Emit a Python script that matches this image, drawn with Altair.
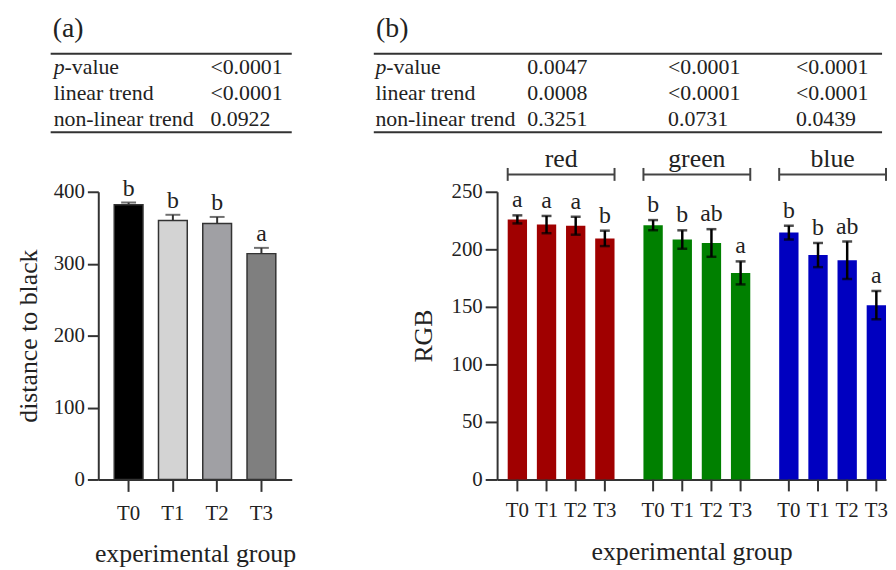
import altair as alt
import pandas as pd

FONT = "Liberation Serif"

# ---------------- data ----------------
groups = ["T0", "T1", "T2", "T3"]

# panel (a): distance to black
dist_mean = [382, 360, 356, 314]
dist_err = [3, 8, 9, 8]
dist_letters = ["b", "b", "b", "a"]
dist_colors = ["#000000", "#d3d3d3", "#a0a0a4", "#7f7f7f"]

# tables
table_rows = ["p-value", "linear trend", "non-linear trend"]
table_a = ["<0.0001", "<0.0001", "0.0922"]
table_b_red = ["0.0047", "0.0008", "0.3251"]
table_b_green = ["<0.0001", "<0.0001", "0.0731"]
table_b_blue = ["<0.0001", "<0.0001", "0.0439"]

# panel (b): RGB
channels = ["red", "green", "blue"]
channel_colors = ["#a00000", "#008000", "#0000c0"]
rgb_red = [226, 221.5, 220.5, 209.5]
rgb_red_err = [3.5, 7.5, 7.8, 6.7]
rgb_green = [221, 208.5, 205.5, 179.5]
rgb_green_err = [4.4, 8, 12, 10]
rgb_blue = [214.5, 195, 190.5, 151.5]
rgb_blue_err = [6, 10.5, 16.3, 12.3]
rgb_letters_red = ["a", "a", "a", "b"]
rgb_letters_green = ["b", "b", "ab", "a"]
rgb_letters_blue = ["b", "b", "ab", "a"]

# ---------------- frames ----------------
df_a = pd.DataFrame({"group": groups, "mean": dist_mean, "err": dist_err, "letter": dist_letters})
df_a["hi"] = df_a["mean"] + df_a["err"]

rows = []
for ch, means, errs, lets in [
    ("red", rgb_red, rgb_red_err, rgb_letters_red),
    ("green", rgb_green, rgb_green_err, rgb_letters_green),
    ("blue", rgb_blue, rgb_blue_err, rgb_letters_blue),
]:
    for t, m, e, l in zip(groups, means, errs, lets):
        rows.append({"channel": ch, "tier": t, "mean": m, "lo": m - e, "hi": m + e, "letter": l})
df_b = pd.DataFrame(rows)
df_ch = pd.DataFrame({"channel": channels})
dummy = pd.DataFrame({"k": [0]})

H = 290
WA = 195
WB = 392
INK = "#222222"
LINE = "#333333"
TFS = 22  # table font size

ROW_Y = [-119, -93, -66.5]
TOP_LINE = -139
BOT_LINE = -60


def table_layers(label_x, value_cols, x1, x2, tag, tag_x):
    layers = []
    for y in (TOP_LINE, BOT_LINE):
        layers.append(alt.Chart(dummy).mark_rule(color=LINE, strokeWidth=2).encode(
            x=alt.value(x1), x2=alt.value(x2), y=alt.value(y)))
    for lbl, y in zip(table_rows, ROW_Y):
        if lbl.startswith("p-"):
            layers.append(alt.Chart(pd.DataFrame({"t": ["p"]})).mark_text(
                align="left", baseline="alphabetic", fontSize=TFS, font=FONT,
                fontStyle="italic", color=INK).encode(
                text="t:N", x=alt.value(label_x), y=alt.value(y)))
            layers.append(alt.Chart(pd.DataFrame({"t": [lbl[1:]]})).mark_text(
                align="left", baseline="alphabetic", fontSize=TFS, font=FONT, color=INK).encode(
                text="t:N", x=alt.value(label_x + 11), y=alt.value(y)))
        else:
            layers.append(alt.Chart(pd.DataFrame({"t": [lbl]})).mark_text(
                align="left", baseline="alphabetic", fontSize=TFS, font=FONT, color=INK).encode(
                text="t:N", x=alt.value(label_x), y=alt.value(y)))
    for vals, vx in value_cols:
        for v, y in zip(vals, ROW_Y):
            layers.append(alt.Chart(pd.DataFrame({"t": [v]})).mark_text(
                align="left", baseline="alphabetic", fontSize=TFS, font=FONT, color=INK).encode(
                text="t:N", x=alt.value(vx), y=alt.value(y)))
    layers.append(alt.Chart(pd.DataFrame({"t": [tag]})).mark_text(
        align="left", baseline="alphabetic", fontSize=28, font=FONT, color=INK).encode(
        text="t:N", x=alt.value(tag_x), y=alt.value(-156)))
    return layers


# ---------------- panel (a) ----------------
ya_scale = alt.Scale(domain=[0, 400], nice=False, zero=True)
xa = alt.X("group:N", sort=groups,
           scale=alt.Scale(paddingInner=0.35, paddingOuter=0.36),
           axis=alt.Axis(title="experimental group", labelAngle=0, tickSize=12,
                         labelPadding=11, titlePadding=18))
ya = alt.Y("mean:Q", scale=ya_scale,
           axis=alt.Axis(values=[0, 100, 200, 300, 400], title="distance to black",
                         tickSize=11, labelPadding=3, titlePadding=12))

bars_a = alt.Chart(df_a).mark_bar(stroke=LINE, strokeWidth=1.5).encode(
    x=xa, y=ya,
    color=alt.Color("group:N", scale=alt.Scale(domain=groups, range=dist_colors), legend=None))
xa_plain = alt.X("group:N", sort=groups)
err_a = alt.Chart(df_a).mark_rule(color=LINE, strokeWidth=2).encode(
    x=xa_plain, y=alt.Y("mean:Q", scale=ya_scale), y2="hi:Q")
cap_a = alt.Chart(df_a).mark_tick(color=LINE, thickness=2, size=15).encode(
    x=xa_plain, y=alt.Y("hi:Q", scale=ya_scale))
let_a = alt.Chart(df_a).mark_text(dy=-7, baseline="alphabetic", fontSize=24, font=FONT, color=INK).encode(
    x=xa_plain, y=alt.Y("hi:Q", scale=ya_scale), text="letter:N")

panel_a = alt.layer(
    bars_a, err_a, cap_a, let_a,
    *table_layers(-45, [(table_a, 113)], -48, WA, "(a)", -46)
).properties(width=WA, height=H)

# ---------------- panel (b) ----------------
yb_scale = alt.Scale(domain=[0, 250], nice=False, zero=True)
xb = alt.X("channel:N", sort=channels,
           scale=alt.Scale(paddingInner=0.213, paddingOuter=0.039, align=1),
           axis=alt.Axis(labels=False, ticks=False, title="experimental group", titlePadding=60))
xo = alt.XOffset("tier:N", sort=groups, scale=alt.Scale(paddingInner=0.337, paddingOuter=0))
yb = alt.Y("mean:Q", scale=yb_scale,
           axis=alt.Axis(values=[0, 50, 100, 150, 200, 250], title="RGB",
                         tickSize=12, labelPadding=3, titlePadding=15))

bars_b = alt.Chart(df_b).mark_bar().encode(
    x=xb, xOffset=xo, y=yb,
    color=alt.Color("channel:N", scale=alt.Scale(domain=channels, range=channel_colors), legend=None))
xb_plain = alt.X("channel:N", sort=channels)
err_b = alt.Chart(df_b).mark_rule(color="#000000", strokeWidth=2.5).encode(
    x=xb_plain, xOffset=xo, y=alt.Y("lo:Q", scale=yb_scale), y2="hi:Q")
cap_hi = alt.Chart(df_b).mark_tick(color="#000000", thickness=2.5, size=10).encode(
    x=xb_plain, xOffset=xo, y=alt.Y("hi:Q", scale=yb_scale))
cap_lo = alt.Chart(df_b).mark_tick(color="#000000", thickness=2.5, size=10).encode(
    x=xb_plain, xOffset=xo, y=alt.Y("lo:Q", scale=yb_scale))
let_b = alt.Chart(df_b).mark_text(dy=-8, baseline="alphabetic", fontSize=24, font=FONT, color=INK).encode(
    x=xb_plain, xOffset=xo, y=alt.Y("hi:Q", scale=yb_scale), text="letter:N")
tick_b = alt.Chart(df_b).mark_rule(color=LINE, strokeWidth=2).encode(
    x=xb_plain, xOffset=xo, y=alt.value(H), y2=alt.value(H + 12))
tlab_b = alt.Chart(df_b).mark_text(baseline="middle", fontSize=21, font=FONT, color=INK).encode(
    x=xb_plain, xOffset=xo, y=alt.value(H + 32), text="tier:N")
glab_b = alt.Chart(df_ch).mark_text(baseline="alphabetic", fontSize=26, font=FONT, color=INK).encode(
    x=xb_plain, y=alt.value(-25), text="channel:N")
brk_b = alt.Chart(df_ch).mark_bar(color="#444444").encode(
    x=xb_plain, y=alt.value(-18.5), y2=alt.value(-16.5))
brk_l = alt.Chart(df_ch).mark_rule(color="#444444", strokeWidth=2).encode(
    x=alt.X("channel:N", sort=channels, bandPosition=0), y=alt.value(-24), y2=alt.value(-11))
brk_r = alt.Chart(df_ch).mark_rule(color="#444444", strokeWidth=2).encode(
    x=alt.X("channel:N", sort=channels, bandPosition=1), y=alt.value(-24), y2=alt.value(-11))

panel_b = alt.layer(
    bars_b, err_b, cap_hi, cap_lo, let_b, tick_b, tlab_b, glab_b, brk_b, brk_l, brk_r,
    *table_layers(-122.7, [(table_b_red, 30.5), (table_b_green, 172.3), (table_b_blue, 301.3)],
                  -124.3, 388, "(b)", -122)
).properties(width=WB, height=H)

chart = alt.hconcat(panel_a, panel_b, spacing=77).resolve_scale(
    color="independent"
).properties(
    padding={"left": 7, "top": 5, "right": 0, "bottom": 0}
).configure_view(stroke=None).configure_axis(
    labelFont=FONT, titleFont=FONT, labelFontSize=21, titleFontSize=26,
    titleFontWeight="normal", labelColor=INK, titleColor=INK,
    domainColor=LINE, tickColor=LINE, domainWidth=2, tickWidth=2, grid=False
)

chart.save("out.html", embed_options={"renderer": "svg", "actions": False})
